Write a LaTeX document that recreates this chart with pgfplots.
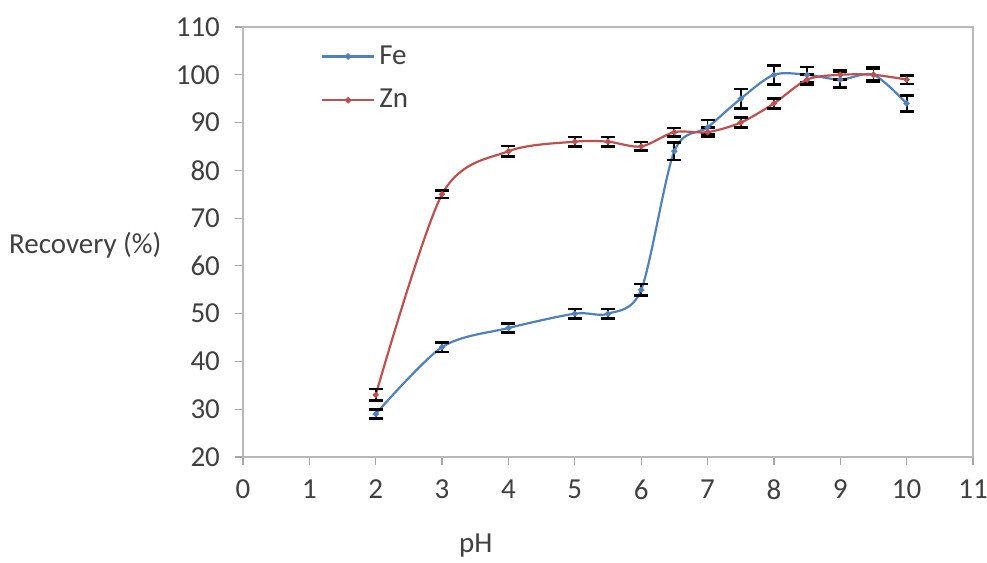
\documentclass[border=0pt]{standalone}
\usepackage{pgfplots}
\pgfplotsset{compat=1.18}
\usepackage{fontspec}
\setmainfont{Carlito}
\definecolor{feblue}{HTML}{4F81BD}
\definecolor{znred}{HTML}{C0504D}
\definecolor{txt}{HTML}{404040}
\begin{document}
\begin{tikzpicture}
\path[use as bounding box] (-121.5pt,-53pt) rectangle (372pt,228.5pt);
\begin{axis}[
  scale only axis,
  width=365pt, height=215pt,
  xmin=0, xmax=11, ymin=20, ymax=110,
  xtick={0,1,...,11}, ytick={20,30,...,110},
  xtick pos=bottom, ytick pos=left,
  tick align=outside,
  major tick length=4pt,
  tick style={gray!70, line width=0.6pt},
  axis line style={gray!55, line width=0.7pt},
  /pgf/number format/assume math mode=true,
  ticklabel style={font=\fontsize{14.5}{16}\selectfont, text=txt},
  yticklabel style={xshift=-4pt},
  xticklabel style={yshift=-4pt},
  xlabel={pH},
  ylabel={Recovery (\%)},
  every axis x label/.style={at={(axis description cs:0.319,-0.205)}, anchor=center, font=\fontsize{14.5}{16}\selectfont, text=txt},
  every axis y label/.style={at={(axis description cs:-0.216,0.493)}, anchor=center, font=\fontsize{14.5}{16}\selectfont, text=txt},
  legend style={draw=none, fill=none, at={(axis description cs:0.098,0.976)}, anchor=north west,
    font=\fontsize{14.5}{16}\selectfont, text=txt, row sep=7pt},
  legend cell align=left,
  legend image code/.code={\draw[#1, line width=1.2pt, mark repeat=2, mark phase=2] plot coordinates {(0pt,0pt) (13pt,0pt) (26pt,0pt)};},
  error bars/error bar style={black, line width=0.9pt},
  error bars/error mark options={black, rotate=90, mark size=3.5pt, line width=1.3pt},
]
\addplot[feblue, line width=1.1pt, smooth, tension=0.5, mark=*, mark size=0.9pt,
  error bars/.cd, y dir=both, y explicit]
  coordinates {
  (2,29) +- (0,1)
  (3,43) +- (0,1)
  (4,47) +- (0,1)
  (5,50) +- (0,1)
  (5.5,50) +- (0,1)
  (6,55) +- (0,1.2)
  (6.5,84) +- (0,1.8)
  (7,89) +- (0,1.5)
  (7.5,95) +- (0,2)
  (8,100) +- (0,2)
  (8.5,100) +- (0,1.6)
  (9,99) +- (0,1.6)
  (9.5,100) +- (0,1.5)
  (10,94) +- (0,1.7)
  };
\addlegendentry{Fe}
\addplot[znred, line width=1.1pt, smooth, tension=0.5, mark=*, mark size=0.9pt,
  error bars/.cd, y dir=both, y explicit]
  coordinates {
  (2,33) +- (0,1.2)
  (3,75) +- (0,0.8)
  (4,84) +- (0,1.1)
  (5,86) +- (0,1)
  (5.5,86) +- (0,1)
  (6,85) +- (0,0.9)
  (6.5,88) +- (0,0.9)
  (7,88) +- (0,1)
  (7.5,90) +- (0,1)
  (8,94) +- (0,1)
  (8.5,99) +- (0,1)
  (9,100) +- (0,1)
  (9.5,100) +- (0,1.2)
  (10,99) +- (0,0.9)
  };
\addlegendentry{Zn}
\end{axis}
\end{tikzpicture}
\end{document}
